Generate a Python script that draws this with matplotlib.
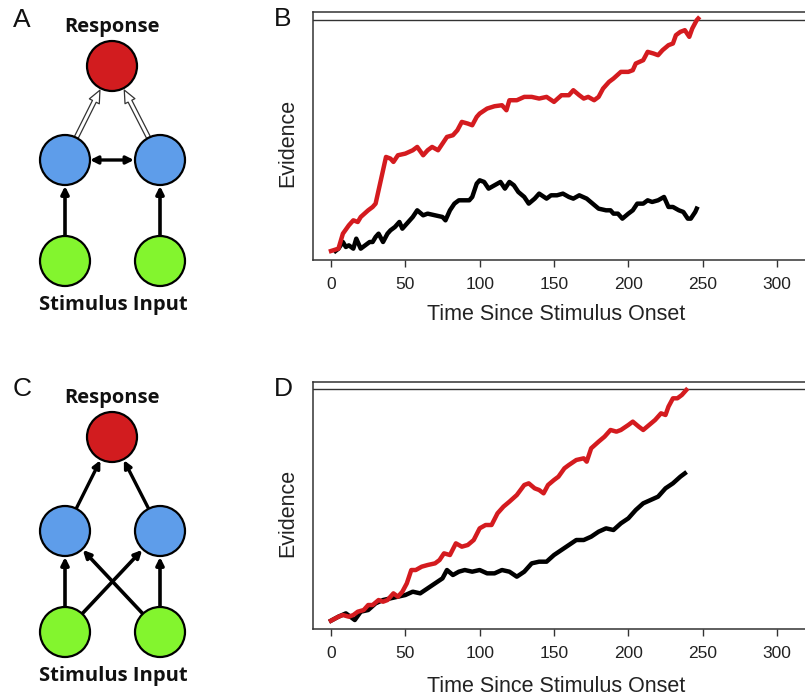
import numpy as np
import matplotlib
matplotlib.use("Agg")
import matplotlib.pyplot as plt
from matplotlib.patches import Circle, FancyArrowPatch

# ---------------- data ----------------
b_red_t = [0, 5, 8, 12, 15, 18, 20, 25, 28, 30, 32, 35, 37, 40, 42, 45, 50, 55, 58, 62, 65, 68, 72, 75, 78,
           82, 85, 88, 92, 95, 98, 100, 105, 110, 115, 118, 120, 125, 130, 135, 140, 145, 150, 155, 160,
           163, 167, 170, 173, 177, 180, 183, 187, 190, 195, 200, 203, 205, 210, 213, 217, 220, 223, 227,
           230, 232, 235, 238, 241, 243, 246, 247]
b_red_y = [752, 745, 700, 675, 660, 665, 650, 630, 620, 610, 570, 510, 470, 475, 485, 465, 460, 450, 440, 465,
           450, 440, 450, 430, 410, 405, 390, 365, 370, 375, 350, 340, 325, 318, 315, 330, 300, 300, 290,
           290, 295, 290, 305, 285, 285, 270, 285, 295, 290, 300, 290, 265, 245, 235, 215, 215, 210, 190,
           180, 155, 160, 165, 150, 135, 130, 105, 95, 90, 110, 85, 60, 55]

b_blk_t = [3, 5, 8, 10, 12, 15, 17, 20, 23, 26, 28, 30, 32, 35, 38, 40, 43, 46, 48, 51, 55, 58, 62, 65, 70,
           75, 77, 80, 83, 86, 90, 93, 95, 98, 100, 103, 106, 110, 114, 117, 120, 123, 126, 130, 133, 137,
           140, 145, 148, 152, 156, 160, 163, 167, 172, 176, 180, 185, 188, 190, 193, 196, 200, 203, 206,
           210, 213, 216, 220, 224, 227, 230, 234, 237, 240, 242, 245, 246]
b_blk_y = [752, 745, 725, 740, 735, 745, 715, 745, 735, 725, 725, 710, 700, 725, 700, 690, 680, 665, 685, 670,
           650, 630, 645, 640, 645, 650, 660, 630, 610, 600, 600, 600, 590, 550, 540, 545, 565, 555, 545,
           565, 545, 555, 575, 590, 610, 595, 580, 595, 585, 585, 580, 590, 595, 585, 595, 610, 625, 630,
           630, 640, 640, 655, 640, 630, 610, 610, 600, 605, 600, 590, 620, 620, 630, 635, 655, 655, 635, 625]

d_red_t = [0, 5, 8, 12, 15, 18, 22, 25, 28, 32, 35, 38, 42, 45, 48, 51, 54, 57, 61, 65, 70, 73, 76, 80, 84,
           88, 92, 96, 100, 104, 108, 112, 116, 120, 125, 130, 133, 137, 140, 143, 146, 150, 153, 157,
           160, 165, 170, 172, 175, 180, 184, 188, 192, 195, 200, 203, 207, 210, 214, 218, 222, 225, 227,
           230, 233, 236, 239]
d_red_y = [752, 740, 735, 740, 735, 725, 720, 705, 705, 690, 695, 690, 670, 680, 665, 640, 600, 600, 590, 585,
           580, 570, 550, 555, 520, 530, 525, 510, 475, 465, 465, 430, 410, 395, 375, 345, 340, 355, 360,
           370, 345, 330, 320, 295, 285, 270, 265, 275, 235, 215, 200, 180, 185, 180, 165, 155, 170, 180,
           165, 150, 130, 135, 110, 85, 85, 75, 60]

d_blk_t = [0, 5, 10, 13, 16, 20, 25, 30, 35, 40, 45, 50, 55, 60, 65, 70, 75, 78, 82, 86, 90, 95, 100, 105,
           110, 115, 120, 125, 130, 135, 140, 145, 150, 155, 160, 165, 170, 175, 180, 185, 190, 195, 200,
           205, 210, 215, 220, 225, 230, 235, 238]
d_blk_y = [752, 740, 730, 740, 750, 725, 720, 700, 690, 685, 680, 675, 665, 670, 655, 640, 625, 600, 615, 605,
           600, 605, 600, 610, 610, 600, 605, 620, 605, 580, 575, 575, 555, 540, 525, 510, 510, 500, 485,
           475, 480, 460, 445, 420, 400, 390, 380, 355, 340, 320, 310]

x_ticks = [0, 50, 100, 150, 200, 250, 300]
x_label = "Time Since Stimulus Onset"
y_label = "Evidence"


def to_evidence(v):
    # reading scale: 752 -> start (0), 58 -> threshold (1)
    return (752 - np.asarray(v, dtype=float)) / (752 - 58)


# ---------------- figure ----------------
W, H = 805, 699
fig = plt.figure(figsize=(W / 100, H / 100), dpi=100)
fig.patch.set_facecolor("white")

TICK_FONT = "Liberation Sans"
RED_TRACE = "#D41B1F"

k = (777 - 331) / 300.0  # px per time unit
x_left_px, x_right_px, x0_px = 313, 845, 331
xlim = ((x_left_px - x0_px) / k, (x_right_px - x0_px) / k)


def make_panel(top, bottom, start_y, thr_y, red_t, red_y, blk_t, blk_y, ylab_y, xlab_y):
    ax = fig.add_axes([x_left_px / W, 1 - bottom / H, (x_right_px - x_left_px) / W, (bottom - top) / H])
    per = start_y - thr_y
    ax.set_ylim((start_y - bottom) / per, 1 + (thr_y - top) / per)
    ax.set_xlim(*xlim)
    ax.axhline(1.0, color="#333333", lw=1.0)
    ax.plot(blk_t, to_evidence(blk_y), color="black", lw=3.2, solid_joinstyle="round")
    ax.plot(red_t, to_evidence(red_y), color=RED_TRACE, lw=3.2, solid_joinstyle="round")
    for s in ["left", "top", "bottom", "right"]:
        ax.spines[s].set_linewidth(1.1)
        ax.spines[s].set_color("#333333")
    ax.set_yticks([])
    ax.set_xticks(x_ticks)
    ax.set_xticklabels([str(t) for t in x_ticks], fontsize=12.5, family=TICK_FONT, color="#222222")
    ax.tick_params(axis="x", length=5, width=1.0, color="#333333", pad=7.5)
    fig.text(288 / W, 1 - ylab_y / H, y_label, rotation=90, ha="center", va="center",
             fontsize=15.5, family=TICK_FONT, color="#222222")
    fig.text(556 / W, 1 - xlab_y / H, x_label, ha="center", va="center",
             fontsize=15.5, family=TICK_FONT, color="#222222")
    return ax


make_panel(12, 260, 251, 19.5, b_red_t, b_red_y, b_blk_t, b_blk_y, 143, 314)
make_panel(382, 629, 620.7, 389.3, d_red_t, d_red_y, d_blk_t, d_blk_y, 513, 686)

# panel letters
for letter, (lx, ly) in {"A": (22, 20), "B": (283, 19), "C": (22, 389), "D": (283, 389)}.items():
    fig.text(lx / W, 1 - ly / H, letter, ha="center", va="center", fontsize=19,
             family=TICK_FONT, color="#111111")

# ---------------- network diagrams ----------------
axd = fig.add_axes([0, 0, 1, 1], zorder=-1)
axd.set_xlim(0, W)
axd.set_ylim(H, 0)
axd.axis("off")

RED, BLUE, GREEN = "#D21C1F", "#5E9DEA", "#83F52E"
R = 25
DFONT = "Open Sans"


def node(x, y, c):
    axd.add_patch(Circle((x, y), R, facecolor=c, edgecolor="black", lw=1.6, zorder=3))


def edge_pts(p, q, ra=R, rb=R + 1):
    p, q = np.array(p, float), np.array(q, float)
    u = (q - p) / np.linalg.norm(q - p)
    return p + u * ra, q - u * rb


def arrow(p, q, style="-|>", lw=2.6, ra=R, rb=R + 1, **kw):
    a, b = edge_pts(p, q, ra, rb)
    axd.add_patch(FancyArrowPatch(a, b, arrowstyle=style, mutation_scale=11, lw=lw,
                                  color="black", shrinkA=0, shrinkB=0, zorder=2, **kw))


def hollow(p, q, ra=R, rb=R + 2):
    a, b = edge_pts(p, q, ra, rb)
    axd.add_patch(FancyArrowPatch(a, b, arrowstyle="simple,head_length=0.9,head_width=0.8,tail_width=0.3",
                                  mutation_scale=10, lw=0.9, facecolor="white", edgecolor="#333333",
                                  shrinkA=0, shrinkB=0, zorder=2))


def diagram(y_off, crossed):
    top = (112, 66 + y_off)
    bl, br = (65, 160 + y_off), (160, 160 + y_off)
    gl, gr = (65, 261 + y_off), (160, 261 + y_off)
    for c, p in [(RED, top), (BLUE, bl), (BLUE, br), (GREEN, gl), (GREEN, gr)]:
        node(*p, c)
    fig.text(112 / W, 1 - (27 + y_off) / H, "Response", ha="center", va="center",
             fontsize=14.5, fontweight="bold", family=DFONT, color="#111111")
    fig.text(113 / W, 1 - (305 + y_off) / H, "Stimulus Input", ha="center", va="center",
             fontsize=14.5, fontweight="bold", family=DFONT, color="#111111")
    arrow(gl, bl)
    arrow(gr, br)
    if crossed:
        arrow(gl, br)
        arrow(gr, bl)
        arrow(bl, top, lw=2.4)
        arrow(br, top, lw=2.4)
    else:
        arrow(bl, br, style="<|-|>", lw=2.4)
        hollow(bl, top)
        hollow(br, top)


diagram(0, False)
diagram(371, True)

fig.savefig("out.png", dpi=100, facecolor="white")
